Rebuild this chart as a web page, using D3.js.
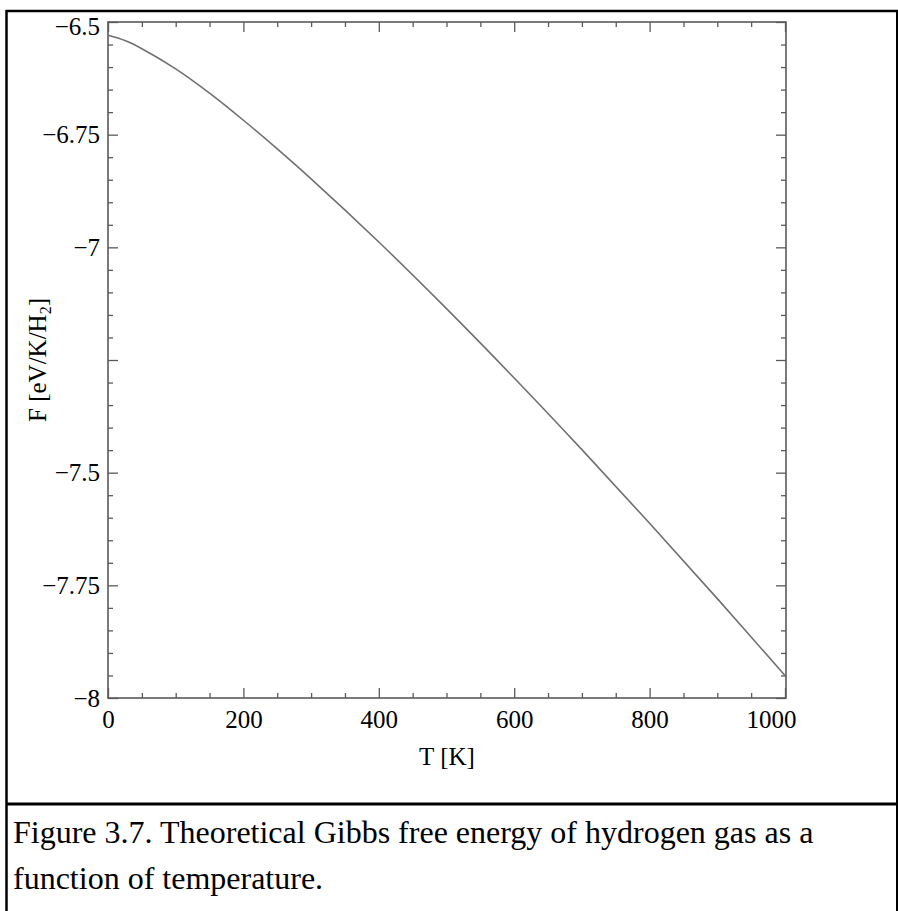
<!DOCTYPE html>
<html>
<head>
<meta charset="utf-8">
<script src="https://cdn.jsdelivr.net/npm/d3@7"></script>
<style>
  html, body { margin: 0; padding: 0; background: #fff; }
  svg { display: block; }
  text { font-family: "Liberation Serif", "Times New Roman", serif; fill: #000; }
</style>
</head>
<body>
<svg id="chart" width="898" height="911"></svg>
<script>
// ---- data ----
const temperatures = [0, 25, 50, 100, 150, 200, 250, 300, 400, 500, 600, 700, 800, 900, 1000];
const freeEnergy   = [-6.5295, -6.5412, -6.5592, -6.6040, -6.6579, -6.7180, -6.7816, -6.8481,
                      -6.9882, -7.1360, -7.2899, -7.4489, -7.6123, -7.7795, -7.9501];
const xTickValues  = [0, 200, 400, 600, 800, 1000];
const xTickLabels  = ["0", "200", "400", "600", "800", "1000"];
const yTickValues  = [-6.5, -6.75, -7, -7.25, -7.5, -7.75, -8];
const yTickLabels  = ["\u22126.5", "\u22126.75", "\u22127", "", "\u22127.5", "\u22127.75", "\u22128"];
const xLabel = "T [K]";
const captionLines = ["Figure 3.7. Theoretical Gibbs free energy of hydrogen gas as a",
                      "function of temperature."];

// ---- layout ----
const svg = d3.select("#chart");
const L = 108, R = 786, T = 22, B = 698;
const frameColor = "#5a5a5a";

const x = d3.scaleLinear().domain([0, 1000]).range([L, R - 1]);
const y = d3.scaleLinear().domain([-8, -6.5]).range([B, T]);

// outer figure box
svg.append("line").attr("x1", 6).attr("x2", 898).attr("y1", 11).attr("y2", 11)
  .attr("stroke", "#000").attr("stroke-width", 2.5);
svg.append("line").attr("x1", 6.5).attr("x2", 6.5).attr("y1", 10).attr("y2", 911)
  .attr("stroke", "#000").attr("stroke-width", 2.5);
svg.append("line").attr("x1", 897).attr("x2", 897).attr("y1", 10).attr("y2", 911)
  .attr("stroke", "#000").attr("stroke-width", 2);
svg.append("line").attr("x1", 6).attr("x2", 898).attr("y1", 804).attr("y2", 804)
  .attr("stroke", "#000").attr("stroke-width", 3);

// minor ticks
const xMinor = d3.range(0, 1001, 50).filter(v => !xTickValues.includes(v));
const yMinor = d3.range(-8, -6.5 + 1e-9, 0.05).map(v => +v.toFixed(2))
  .filter(v => !yTickValues.some(t => Math.abs(t - v) < 1e-6));

function styleAxis(g) {
  g.select(".domain").remove();
  g.selectAll(".tick line").attr("stroke", frameColor).attr("stroke-width", 1.3);
}

// bottom
svg.append("g").attr("transform", `translate(0,${B})`)
  .call(d3.axisBottom(x).tickValues(xTickValues).tickSize(-10).tickPadding(12)
    .tickFormat((d, i) => xTickLabels[i]))
  .call(styleAxis)
  .call(g => g.selectAll("text").attr("font-size", 25))
  .call(g => g.selectAll(".tick").filter(d => d === 1000).select("text").attr("dx", -14));
svg.append("g").attr("transform", `translate(0,${B})`)
  .call(d3.axisBottom(x).tickValues(xMinor).tickSize(-5).tickFormat(""))
  .call(styleAxis);
// top
svg.append("g").attr("transform", `translate(0,${T})`)
  .call(d3.axisTop(x).tickValues(xTickValues).tickSize(-10).tickFormat(""))
  .call(styleAxis);
svg.append("g").attr("transform", `translate(0,${T})`)
  .call(d3.axisTop(x).tickValues(xMinor).tickSize(-5).tickFormat(""))
  .call(styleAxis);
// left
svg.append("g").attr("transform", `translate(${L},0)`)
  .call(d3.axisLeft(y).tickValues(yTickValues).tickSize(-10).tickPadding(8)
    .tickFormat((d, i) => yTickLabels[i]))
  .call(styleAxis)
  .call(g => g.selectAll("text").attr("font-size", 25))
  .call(g => g.selectAll(".tick").filter(d => d === -6.5).select("text").attr("dy", "0.5em"));
svg.append("g").attr("transform", `translate(${L},0)`)
  .call(d3.axisLeft(y).tickValues(yMinor).tickSize(-5).tickFormat(""))
  .call(styleAxis);
// right
svg.append("g").attr("transform", `translate(${R},0)`)
  .call(d3.axisRight(y).tickValues(yTickValues).tickSize(-10).tickFormat(""))
  .call(styleAxis);
svg.append("g").attr("transform", `translate(${R},0)`)
  .call(d3.axisRight(y).tickValues(yMinor).tickSize(-5).tickFormat(""))
  .call(styleAxis);

// frame
svg.append("rect").attr("x", L).attr("y", T).attr("width", R - L).attr("height", B - T)
  .attr("fill", "none").attr("stroke", frameColor).attr("stroke-width", 1.6);

// curve
const pts = temperatures.map((t, i) => [t, freeEnergy[i]]);
svg.append("path").datum(pts)
  .attr("fill", "none").attr("stroke", "#707070").attr("stroke-width", 1.6)
  .attr("d", d3.line().x(d => x(d[0])).y(d => y(d[1])).curve(d3.curveCatmullRom.alpha(0.5)));

// axis labels
svg.append("text").attr("x", (L + R) / 2).attr("y", 765).attr("text-anchor", "middle")
  .attr("font-size", 25).text(xLabel);
const yl = svg.append("text").attr("transform", `translate(46,${(T + B) / 2}) rotate(-90)`)
  .attr("text-anchor", "middle").attr("font-size", 25);
yl.append("tspan").text("F [eV/K/H");
yl.append("tspan").attr("font-size", 16).attr("dy", 5).text("2");
yl.append("tspan").attr("dy", -5).text("]");

// caption
svg.selectAll("text.caption").data(captionLines).enter().append("text")
  .attr("class", "caption").attr("x", 13).attr("y", (d, i) => 843 + i * 46)
  .attr("font-size", 32).text(d => d);
</script>
</body>
</html>
